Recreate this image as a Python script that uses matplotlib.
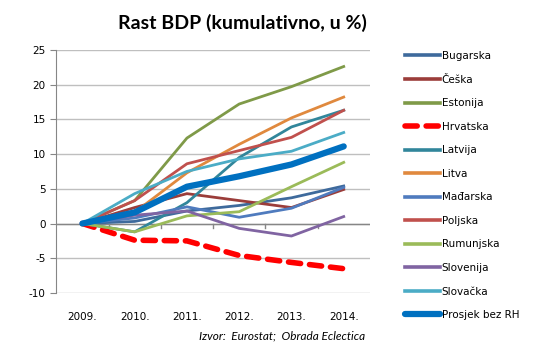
import matplotlib
matplotlib.use('Agg')
import matplotlib.pyplot as plt
import numpy as np

plt.rcParams['axes.unicode_minus'] = False

# Godine i kumulativni rast BDP-a (%)
godine = ['2009.', '2010.', '2011.', '2012.', '2013.', '2014.']

bugarska = [0, 0.3, 1.8, 2.6, 3.7, 5.4]
ceska = [0, 2.3, 4.3, 3.3, 2.3, 4.9]
estonija = [0, 3.3, 12.3, 17.2, 19.7, 22.6]
hrvatska = [0, -2.4, -2.5, -4.6, -5.6, -6.5]
latvija = [0, -1.2, 3.0, 9.5, 13.9, 16.3]
litva = [0, 1.6, 7.3, 11.4, 15.2, 18.2]
madarska = [0, 0.8, 2.4, 0.9, 2.2, 5.2]
poljska = [0, 3.3, 8.6, 10.5, 12.4, 16.3]
rumunjska = [0, -1.2, 1.1, 1.7, 5.3, 8.8]
slovenija = [0, 1.2, 1.8, -0.7, -1.8, 1.0]
slovacka = [0, 4.3, 7.5, 9.3, 10.4, 13.1]
prosjek = [0, 1.6, 5.3, 6.8, 8.5, 11.1]

serije = [
    ('Bugarska', bugarska, '#3E6A9C'),
    ('Češka', ceska, '#9B3D3A'),
    ('Estonija', estonija, '#7F9A48'),
    ('Hrvatska', hrvatska, '#FF0000'),
    ('Latvija', latvija, '#31869B'),
    ('Litva', litva, '#E0893E'),
    ('Mađarska', madarska, '#4F7BBE'),
    ('Poljska', poljska, '#C0504D'),
    ('Rumunjska', rumunjska, '#9BBB59'),
    ('Slovenija', slovenija, '#8064A2'),
    ('Slovačka', slovacka, '#4BACC6'),
    ('Prosjek bez RH', prosjek, '#0070C0'),
]

fig = plt.figure(figsize=(5.36, 3.56), dpi=100)
ax = fig.add_axes([0.105, 0.177, 0.585, 0.683])

x = np.arange(len(godine))
for ime, vrijednosti, boja in serije:
    if ime == 'Hrvatska':
        ax.plot(x, vrijednosti, color=boja, lw=4, ls=(0, (2.2, 1.6)),
                solid_capstyle='round', dash_capstyle='round', label=ime, zorder=3)
    elif ime == 'Prosjek bez RH':
        ax.plot(x, vrijednosti, color=boja, lw=4.5, solid_capstyle='round',
                label=ime, zorder=4)
    else:
        ax.plot(x, vrijednosti, color=boja, lw=2, label=ime, zorder=3)

ax.set_xlim(-0.5, 5.5)
ax.set_ylim(-10, 25)
ax.set_yticks(np.arange(-10, 26, 5))
ax.yaxis.grid(True, color='#BFBFBF', lw=1)
ax.set_axisbelow(True)
for s in ['top', 'right', 'bottom']:
    ax.spines[s].set_visible(False)
ax.spines['left'].set_color('#868686')
ax.axhline(0, color='#868686', lw=1, zorder=1)

# oznake osi x ispod, kvačice na nultoj liniji
ax.set_xticks(x)
ax.set_xticklabels(godine)
ax.tick_params(axis='x', length=0, pad=14, labelsize=7.5)
ax.tick_params(axis='y', length=4, color='#868686', labelsize=7.5)
for xt in np.arange(0.5, 5.0, 1):
    ax.plot([xt, xt], [0, -0.7], color='#868686', lw=1, zorder=1)

fig.text(0.453, 0.935, 'Rast BDP (kumulativno, u %)', ha='center', va='center',
         fontsize=14, fontweight='bold', family='Lato')
fig.text(0.526, 0.055, 'Izvor:  Eurostat;  Obrada Eclectica', ha='center',
         va='center', fontsize=8.5, style='italic', family='Lato')

leg = ax.legend(loc='upper left', bbox_to_anchor=(1.1, 1.012), frameon=False,
                fontsize=7.5, handlelength=3.3, handletextpad=0.2,
                labelspacing=1.3, borderaxespad=0)
for linija in leg.get_lines():
    if linija.get_linewidth() < 3:
        linija.set_linewidth(2.6)

fig.savefig('out.png', dpi=100)
